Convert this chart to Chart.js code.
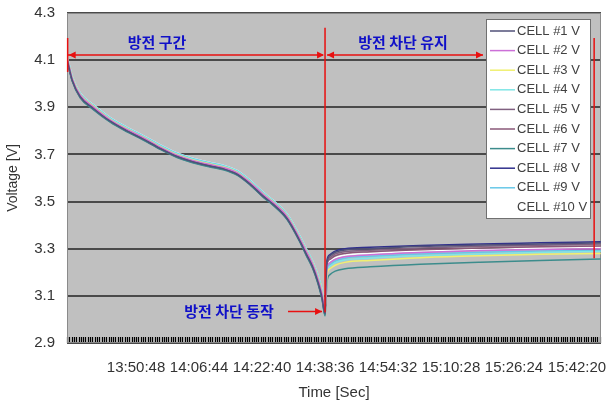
<!DOCTYPE html>
<html>
<head>
<meta charset="utf-8">
<script src="https://cdn.jsdelivr.net/npm/chart.js@4"></script>
<style>
  html, body { margin: 0; padding: 0; background: #fff; }
  #wrap { width: 609px; height: 406px; }
</style>
</head>
<body>
<div id="wrap"><canvas id="chart" width="609" height="406"></canvas></div>
<script>
// sample times (discharge, then recovery after cut-off)
const times = [
  "13:33:20", "13:33:50", "13:34:40", "13:36:40", "13:40:00", "13:44:10", "13:48:30", "13:52:30",
  "13:56:50", "14:01:10", "14:04:30", "14:09:30", "14:12:50", "14:16:20", "14:19:40", "14:23:00",
  "14:25:30", "14:29:00", "14:32:20", "14:33:50", "14:35:30", "14:36:50", "14:37:50", "14:38:36",
  "14:38:50", "14:39:05", "14:39:50", "14:41:10", "14:43:40", "14:50:00", "15:02:40", "15:17:50",
  "15:33:00", "15:48:20"
];

const tickLabels = ["13:50:48", "14:06:44", "14:22:40", "14:38:36", "14:54:32", "15:10:28", "15:26:24", "15:42:20"];
const yTicks = [2.9, 3.1, 3.3, 3.5, 3.7, 3.9, 4.1, 4.3];

const cellNames = ["CELL #1 V", "CELL #2 V", "CELL #3 V", "CELL #4 V", "CELL #5 V",
                   "CELL #6 V", "CELL #7 V", "CELL #8 V", "CELL #9 V", "CELL #10 V"];

const cell1 = [4.105, 4.07, 4.015, 3.945, 3.895, 3.842, 3.80, 3.766, 3.726, 3.691, 3.672, 3.651, 3.639, 3.616, 3.574, 3.522, 3.488, 3.428, 3.33, 3.278, 3.222, 3.158, 3.095, 3.025,
               3.15, 3.24, 3.27, 3.285, 3.295, 3.30, 3.31, 3.316, 3.32, 3.325];
const cell2 = [4.11, 4.078, 4.022, 3.952, 3.902, 3.848, 3.806, 3.772, 3.732, 3.697, 3.678, 3.657, 3.645, 3.623, 3.581, 3.53, 3.496, 3.437, 3.34, 3.29, 3.234, 3.172, 3.11, 3.04,
               3.12, 3.215, 3.24, 3.255, 3.266, 3.274, 3.284, 3.292, 3.297, 3.30];
const cell3 = [4.112, 4.08, 4.025, 3.955, 3.905, 3.85, 3.808, 3.774, 3.734, 3.699, 3.68, 3.659, 3.647, 3.625, 3.583, 3.532, 3.498, 3.44, 3.343, 3.293, 3.238, 3.176, 3.115, 3.045,
               3.10, 3.19, 3.215, 3.23, 3.242, 3.25, 3.262, 3.27, 3.276, 3.28];
const cell4 = [4.115, 4.082, 4.027, 3.957, 3.907, 3.853, 3.811, 3.777, 3.737, 3.702, 3.683, 3.662, 3.65, 3.628, 3.586, 3.535, 3.501, 3.443, 3.346, 3.296, 3.241, 3.18, 3.12, 3.05,
               3.105, 3.20, 3.225, 3.24, 3.252, 3.26, 3.27, 3.278, 3.284, 3.288];
const cell5 = [4.106, 4.072, 4.017, 3.947, 3.897, 3.844, 3.802, 3.768, 3.728, 3.693, 3.674, 3.653, 3.641, 3.618, 3.576, 3.525, 3.49, 3.431, 3.333, 3.282, 3.226, 3.162, 3.10, 3.028,
               3.14, 3.235, 3.262, 3.278, 3.288, 3.294, 3.303, 3.31, 3.315, 3.32];
const cell6 = [4.108, 4.074, 4.019, 3.949, 3.899, 3.845, 3.803, 3.769, 3.729, 3.694, 3.675, 3.654, 3.642, 3.62, 3.578, 3.527, 3.492, 3.433, 3.335, 3.284, 3.228, 3.165, 3.102, 3.03,
               3.13, 3.23, 3.255, 3.27, 3.28, 3.287, 3.296, 3.303, 3.308, 3.312];
const cell7 = [4.10, 4.065, 4.01, 3.94, 3.89, 3.838, 3.796, 3.762, 3.722, 3.687, 3.668, 3.647, 3.635, 3.612, 3.57, 3.518, 3.484, 3.424, 3.325, 3.272, 3.215, 3.15, 3.085, 3.015,
               3.08, 3.16, 3.19, 3.205, 3.215, 3.223, 3.234, 3.243, 3.25, 3.256];
const cell8 = [4.102, 4.066, 4.012, 3.942, 3.892, 3.84, 3.798, 3.764, 3.724, 3.689, 3.67, 3.649, 3.637, 3.614, 3.572, 3.52, 3.486, 3.426, 3.328, 3.275, 3.218, 3.154, 3.09, 3.02,
               3.16, 3.25, 3.275, 3.29, 3.30, 3.306, 3.314, 3.32, 3.325, 3.33];
const cell9 = [4.118, 4.085, 4.03, 3.96, 3.91, 3.856, 3.814, 3.78, 3.74, 3.705, 3.686, 3.665, 3.653, 3.631, 3.589, 3.538, 3.504, 3.446, 3.35, 3.30, 3.245, 3.185, 3.125, 3.055,
               3.11, 3.205, 3.232, 3.248, 3.26, 3.268, 3.278, 3.285, 3.29, 3.294];
const cell10 = [4.12, 4.086, 4.031, 3.961, 3.911, 3.857, 3.815, 3.781, 3.741, 3.706, 3.687, 3.666, 3.654, 3.632, 3.59, 3.539, 3.505, 3.447, 3.351, 3.301, 3.246, 3.186, 3.126, 3.056,
                3.125, 3.22, 3.248, 3.262, 3.273, 3.28, 3.29, 3.297, 3.302, 3.305];

const cellValues = [cell1, cell2, cell3, cell4, cell5, cell6, cell7, cell8, cell9, cell10];
const cellColors = ["#505078", "#cc70d8", "#f0f070", "#80e6e6", "#806080",
                    "#8a5878", "#3c8c8c", "#30308c", "#68c8e8", "#ffffff"];

// marker times for the notes
const startTime = "13:33:30";
const cutTime = "14:38:36";
const endMark = "15:46:40";

function toSec(s) {
  let p = s.split(":");
  return (+p[0]) * 3600 + (+p[1]) * 60 + (+p[2]);
}
function toTime(v) {
  let h = Math.floor(v / 3600), m = Math.floor((v % 3600) / 60), s = Math.round(v % 60);
  return h + ":" + String(m).padStart(2, "0") + ":" + String(s).padStart(2, "0");
}

const xs = times.map(toSec);
const datasets = [];
for (let i = 0; i < cellValues.length; i++) {
  datasets.push({
    label: cellNames[i],
    data: cellValues[i].map((v, j) => ({ x: xs[j], y: v })),
    borderColor: cellColors[i],
    borderWidth: 1.5,
    pointRadius: 0,
    cubicInterpolationMode: "monotone",
    fill: false
  });
}

function arrowHead(ctx, x, y, dir) {
  ctx.beginPath();
  ctx.moveTo(x, y);
  ctx.lineTo(x - dir * 7, y - 3.5);
  ctx.lineTo(x - dir * 7, y + 3.5);
  ctx.closePath();
  ctx.fill();
}

// gray plot background + dense tick band
const plotBg = {
  id: "plotBg",
  beforeDraw(chart) {
    const { ctx, chartArea: a } = chart;
    ctx.save();
    ctx.fillStyle = "#c0c0c0";
    ctx.fillRect(a.left, a.top, a.right - a.left, a.bottom - a.top);
    ctx.restore();
  },
  beforeDatasetsDraw(chart) {
    const { ctx, chartArea: a, scales } = chart;
    const x = scales.x;
    ctx.save();
    ctx.strokeStyle = "#000";
    ctx.lineWidth = 1.2;
    ctx.beginPath();
    for (let t = x.min; t <= x.max; t += 35) {
      let px = Math.round(x.getPixelForValue(t)) + 0.5;
      ctx.moveTo(px, a.bottom - 6);
      ctx.lineTo(px, a.bottom);
    }
    ctx.stroke();
    ctx.strokeStyle = "#8a8a8a";
    ctx.lineWidth = 1;
    ctx.strokeRect(a.left + 0.5, a.top + 0.5, a.right - a.left - 1, a.bottom - a.top - 1);
    ctx.restore();
  }
};

// red markers, Korean notes, legend box
const notes = {
  id: "notes",
  afterDatasetsDraw(chart) {
    const { ctx, scales } = chart;
    const x = scales.x, y = scales.y;
    const xs0 = x.getPixelForValue(toSec(startTime));
    const xc = x.getPixelForValue(toSec(cutTime));
    const xe = x.getPixelForValue(toSec(endMark));
    const ya = y.getPixelForValue(4.122);
    ctx.save();
    ctx.strokeStyle = "#e81010";
    ctx.fillStyle = "#e81010";
    ctx.lineWidth = 1.5;
    ctx.beginPath();
    ctx.moveTo(xs0, y.getPixelForValue(4.194));
    ctx.lineTo(xs0, y.getPixelForValue(4.05));
    ctx.moveTo(xc, y.getPixelForValue(4.237));
    ctx.lineTo(xc, y.getPixelForValue(3.03));
    ctx.moveTo(xe, y.getPixelForValue(4.194));
    ctx.lineTo(xe, y.getPixelForValue(3.26));
    ctx.moveTo(xs0, ya);
    ctx.lineTo(xc - 2, ya);
    ctx.moveTo(xc + 2, ya);
    ctx.lineTo(483, ya);
    ctx.stroke();
    arrowHead(ctx, xs0 + 1, ya, -1);
    arrowHead(ctx, xc - 1, ya, 1);
    arrowHead(ctx, xc + 2, ya, -1);
    arrowHead(ctx, 483, ya, 1);

    const yb = y.getPixelForValue(3.034);
    ctx.beginPath();
    ctx.moveTo(288, yb);
    ctx.lineTo(xc - 3, yb);
    ctx.stroke();
    arrowHead(ctx, xc - 3, yb, 1);

    ctx.fillStyle = "#1010c8";
    ctx.font = "bold 15px 'Noto Sans CJK KR'";
    ctx.textAlign = "center";
    ctx.textBaseline = "middle";
    ctx.fillText("방전 구간", 157, ya - 13);
    ctx.fillText("방전 차단 유지", 403, ya - 13);
    ctx.fillText("방전 차단 동작", 229, yb);

    // legend
    const lx = 486, ly = 19, lw = 104, lh = 199;
    ctx.fillStyle = "#fff";
    ctx.fillRect(lx, ly, lw, lh);
    ctx.strokeStyle = "#707070";
    ctx.lineWidth = 1;
    ctx.strokeRect(lx + 0.5, ly + 0.5, lw, lh);
    ctx.font = "13px 'Liberation Sans'";
    ctx.textAlign = "left";
    const ds = chart.data.datasets;
    for (let i = 0; i < ds.length; i++) {
      let ry = 31 + i * 19.6;
      ctx.strokeStyle = ds[i].borderColor;
      ctx.lineWidth = 1.5;
      ctx.beginPath();
      ctx.moveTo(490, ry);
      ctx.lineTo(515, ry);
      ctx.stroke();
      ctx.fillStyle = "#404040";
      ctx.fillText(ds[i].label, 517, ry);
    }
    ctx.restore();
  }
};

new Chart(document.getElementById("chart"), {
  type: "line",
  data: { datasets: datasets },
  options: {
    responsive: false,
    animation: false,
    layout: { padding: { top: 13, right: 8, left: 0, bottom: 0 } },
    plugins: { legend: { display: false }, tooltip: { enabled: false } },
    scales: {
      x: {
        type: "linear",
        min: toSec("13:33:20"),
        max: toSec("15:48:24"),
        afterBuildTicks: function (s) { s.ticks = tickLabels.map(t => ({ value: toSec(t) })); },
        afterFit: function (s) { s.height = 63; s.paddingLeft = 0; s.paddingRight = 0; },
        grid: { display: false },
        border: { display: false },
        ticks: {
          autoSkip: false,
          maxRotation: 0,
          padding: 8,
          color: "#333",
          font: { family: "Liberation Sans", size: 15 },
          callback: v => toTime(v)
        },
        title: {
          display: true,
          text: "Time [Sec]",
          color: "#333",
          font: { family: "Liberation Sans", size: 15 },
          padding: { top: 0, bottom: 4 }
        }
      },
      y: {
        min: 2.9,
        max: 4.3,
        afterBuildTicks: function (s) { s.ticks = yTicks.map(v => ({ value: v })); },
        afterFit: function (s) { s.width = 67; s.paddingTop = 0; s.paddingBottom = 0; },
        grid: { color: "#4a4a4a", lineWidth: 2, drawTicks: false },
        border: { display: false },
        ticks: {
          padding: 12,
          color: "#333",
          font: { family: "Liberation Sans", size: 15 },
          callback: v => v.toFixed(1)
        },
        title: {
          display: true,
          text: "Voltage [V]",
          color: "#333",
          font: { family: "Liberation Sans", size: 14 },
          padding: { top: 5, bottom: 0 }
        }
      }
    }
  },
  plugins: [plotBg, notes]
});
</script>
</body>
</html>
